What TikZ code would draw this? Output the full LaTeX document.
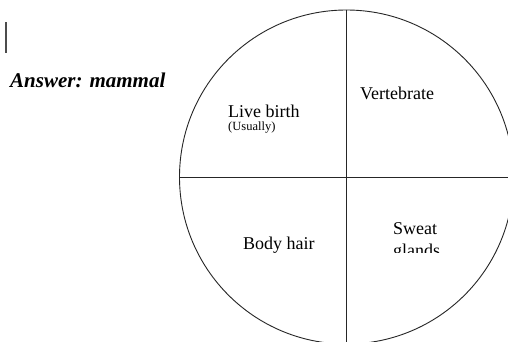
\documentclass[tikz,border=0pt]{standalone}
\usepackage{fontspec}
\setmainfont{Liberation Serif}
\begin{document}
\begin{tikzpicture}[x=1pt,y=-1pt,
  lbl/.style={anchor=base west,inner sep=0pt,font=\fontsize{18}{20}\selectfont},
  small/.style={anchor=base west,inner sep=0pt,font=\fontsize{12.5}{14}\selectfont},
  ans/.style={anchor=base west,inner sep=0pt,font=\fontsize{21}{24}\selectfont\bfseries\itshape},
  ring/.style={draw=black!85,line width=0.9pt,circle,minimum size=334pt,inner sep=0pt},
  divider/.style={draw=black!85,line width=0.9pt}]
\useasboundingbox (0,0) rectangle (508,341);
\clip (0,0) rectangle (508,341);
\fill[white] (0,0) rectangle (508,341);
% cursor bar
\coordinate (bartop) at (6,22);
\coordinate (barbot) at (6,53);
\draw[black!70,line width=1.1pt] (bartop) -- (barbot);
\node[ans] (answer) at (10,87) {Answer: mammal};
% circle
\node[ring] (c) at (346.5,177) {};
\draw[divider] (c.north) -- (c.south);
\draw[divider] (c.west) -- (c.east);
% labels
\node[lbl] (live) at (228,117) {Live birth};
\node[small] (usually) at (228,130) {(Usually)};
\node[lbl] (vert) at (360,99) {Vertebrate};
\node[lbl] (hair) at (243,249) {Body hair};
\node[lbl] (sweat) at (393,234) {Sweat};
\begin{scope}
\clip (380,238) rectangle (470,252.5);
\node[lbl] (glands) at (393,256) {glands};
\end{scope}
\end{tikzpicture}
\end{document}
